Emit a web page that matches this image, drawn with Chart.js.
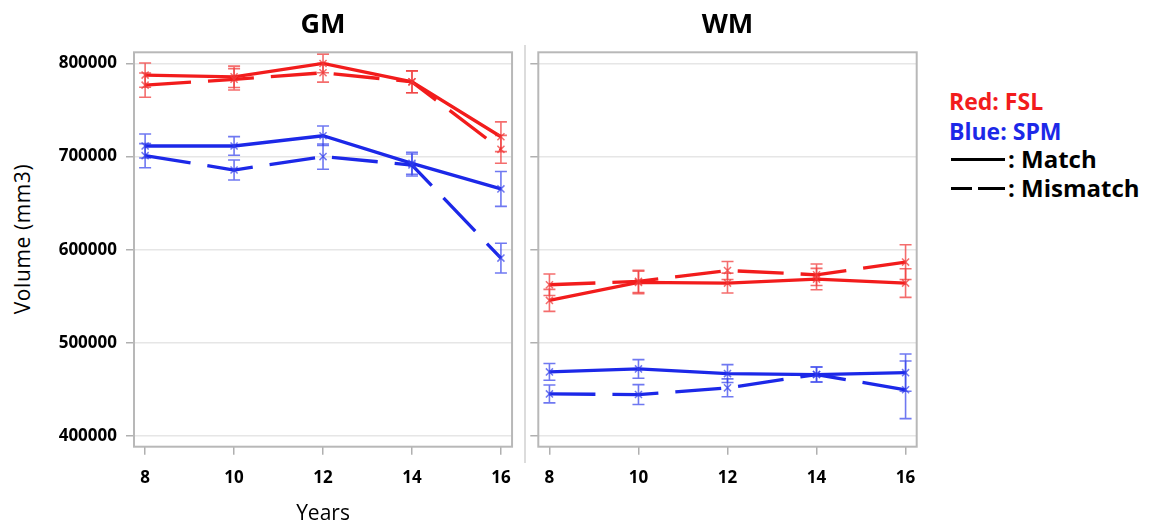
<!DOCTYPE html>
<html><head><meta charset="utf-8">
<script src="https://cdn.jsdelivr.net/npm/chart.js@4.4.0/dist/chart.umd.min.js"></script>
<style>
body{margin:0;background:#fff;width:1150px;height:526px;position:relative;overflow:hidden;font-family:"Open Sans",sans-serif;}
canvas{position:absolute;top:0;}
#c1{left:0;}
#c2{left:526px;}
.sep{position:absolute;left:523.5px;top:45px;width:2px;height:418px;background:#dcdcdc;}
.leg{position:absolute;font-weight:bold;font-size:23px;line-height:23px;white-space:nowrap;color:#000;}
.big{font-size:24px;line-height:24px;}
.ln{position:absolute;height:3px;background:#000;}
.ytitle{position:absolute;left:22px;top:239px;transform:translate(-50%,-50%) rotate(-90deg);font-size:21px;line-height:24px;letter-spacing:0.6px;white-space:nowrap;color:#000;}
</style></head><body>
<div class="sep"></div>
<div class="ytitle">Volume (mm3)</div>
<canvas id="c1" width="524" height="526"></canvas>
<canvas id="c2" width="410" height="526"></canvas>
<div class="leg" style="left:949px;top:90px;color:rgb(242,28,28)">Red: FSL</div>
<div class="leg" style="left:949px;top:120px;color:rgb(28,40,232)">Blue: SPM</div>
<div class="ln" style="left:951px;top:158px;width:54px"></div>
<div class="leg big" style="left:1008px;top:147px">: Match</div>
<div class="ln" style="left:951px;top:187px;width:21px"></div>
<div class="ln" style="left:978px;top:187px;width:27px"></div>
<div class="leg big" style="left:1008px;top:176px">: Mismatch</div>
<script>
// ---- data ----
const years = [8, 10, 12, 14, 16];
const yTicks = [400000, 500000, 600000, 700000, 800000];

const gmFslMatch      = [787500, 785700, 800000, 780300, 721300];
const gmFslMatchErr   = [13000, 11500, 10000, 11800, 16000];
const gmFslMismatch   = [776700, 783000, 790000, 780300, 707800];
const gmFslMismatchErr= [13000, 11500, 10000, 11800, 15000];
const gmSpmMatch      = [711400, 711400, 722400, 692800, 665300];
const gmSpmMatchErr   = [12900, 10000, 10400, 11800, 18700];
const gmSpmMismatch   = [701000, 685600, 700000, 691000, 591000];
const gmSpmMismatchErr= [12900, 10700, 13600, 11800, 16000];

const wmFslMatch      = [545600, 564900, 564200, 568500, 564200];
const wmFslMatchErr   = [11800, 12000, 10700, 11500, 15400];
const wmFslMismatch   = [562400, 566000, 577700, 573100, 586700];
const wmFslMismatchErr= [11500, 12000, 9700, 11500, 18600];
const wmSpmMatch      = [468800, 472000, 467000, 466000, 468000];
const wmSpmMatchErr   = [9000, 10000, 9600, 8000, 20000];
const wmSpmMismatch   = [445200, 444500, 451700, 466000, 449600];
const wmSpmMismatchErr= [9600, 10700, 9600, 8000, 31000];

// ---- styles ----
const RED = 'rgb(242,28,28)', RED_L = 'rgba(240,60,60,0.75)';
const BLUE = 'rgb(28,40,232)', BLUE_L = 'rgba(50,62,235,0.7)';
const DASH = [46, 17];
const FONT = '"Open Sans", sans-serif';

function ds(label, vals, errs, color, light, dashed) {
  return {
    label,
    data: years.map((x, i) => ({x, y: vals[i]})),
    err: errs,
    errColor: light,
    borderColor: color,
    borderWidth: 3.3,
    borderDash: dashed ? DASH : [],
    pointStyle: 'crossRot',
    pointRadius: 5,
    pointBorderColor: light,
    pointBorderWidth: 1.5,
    pointBackgroundColor: light,
    tension: 0,
    fill: false
  };
}

const errorBars = {
  id: 'errorBars',
  beforeDatasetsDraw(chart) {
    const ctx = chart.ctx, xs = chart.scales.x, ys = chart.scales.y;
    ctx.save();
    chart.data.datasets.forEach(d => {
      ctx.strokeStyle = d.errColor;
      ctx.lineWidth = 1.6;
      d.data.forEach((p, i) => {
        const px = xs.getPixelForValue(p.x);
        const t = ys.getPixelForValue(p.y + d.err[i]);
        const b = ys.getPixelForValue(p.y - d.err[i]);
        ctx.beginPath();
        ctx.moveTo(px, t); ctx.lineTo(px, b);
        ctx.moveTo(px - 6, t); ctx.lineTo(px + 6, t);
        ctx.moveTo(px - 6, b); ctx.lineTo(px + 6, b);
        ctx.stroke();
      });
    });
    ctx.restore();
  }
};

const frame = {
  id: 'frame',
  afterDraw(chart) {
    const a = chart.chartArea, ctx = chart.ctx;
    ctx.save();
    ctx.strokeStyle = '#b8b8b8';
    ctx.lineWidth = 2;
    ctx.strokeRect(a.left, a.top, a.right - a.left, a.bottom - a.top);
    ctx.restore();
  }
};

function panel(id, title, datasets, left) {
  return new Chart(document.getElementById(id), {
    type: 'line',
    data: {datasets},
    plugins: [errorBars, frame],
    options: {
      responsive: false,
      animation: false,
      layout: {padding: {left: 0, right: left ? 11.3 : 19.3, top: 0, bottom: 0}},
      plugins: {
        legend: {display: false},
        tooltip: {enabled: false},
        title: {
          display: true, text: title, fullSize: false, color: '#000',
          font: {family: FONT, size: 27, weight: 'bold'},
          padding: {top: 9, bottom: 10.9}
        }
      },
      scales: {
        x: {
          type: 'linear', min: 7.75, max: 16.25,
          afterBuildTicks: s => { s.ticks = years.map(v => ({value: v})); },
          afterFit: s => { s.height = 79.3; },
          ticks: {color: '#000', font: {family: FONT, size: 17, weight: 'bold'}, padding: 13, maxRotation: 0},
          grid: {drawOnChartArea: false, tickLength: 8, tickColor: '#b0b0b0', lineWidth: 1.5},
          border: {display: false},
          title: {display: left, text: 'Years', color: '#000',
                  font: {family: FONT, size: 21}, padding: {top: 0, bottom: -1}}
        },
        y: {
          min: 388500, max: 812000,
          afterBuildTicks: s => { s.ticks = yTicks.map(v => ({value: v})); },
          afterFit: s => { s.width = left ? 134 : 12.3; },
          ticks: {
            color: '#000', font: {family: FONT, size: 17, weight: 'bold'}, padding: 9,
            callback: v => left ? String(v) : ''
          },
          grid: {color: '#e6e6e6', lineWidth: 1.5, tickLength: 8, tickColor: '#b0b0b0'},
          border: {display: false}
        }
      }
    }
  });
}

panel('c1', 'GM', [
  ds('SPM Mismatch', gmSpmMismatch, gmSpmMismatchErr, BLUE, BLUE_L, true),
  ds('SPM Match', gmSpmMatch, gmSpmMatchErr, BLUE, BLUE_L, false),
  ds('FSL Mismatch', gmFslMismatch, gmFslMismatchErr, RED, RED_L, true),
  ds('FSL Match', gmFslMatch, gmFslMatchErr, RED, RED_L, false)
], true);

panel('c2', 'WM', [
  ds('SPM Mismatch', wmSpmMismatch, wmSpmMismatchErr, BLUE, BLUE_L, true),
  ds('SPM Match', wmSpmMatch, wmSpmMatchErr, BLUE, BLUE_L, false),
  ds('FSL Mismatch', wmFslMismatch, wmFslMismatchErr, RED, RED_L, true),
  ds('FSL Match', wmFslMatch, wmFslMatchErr, RED, RED_L, false)
], false);
</script>
</body></html>
